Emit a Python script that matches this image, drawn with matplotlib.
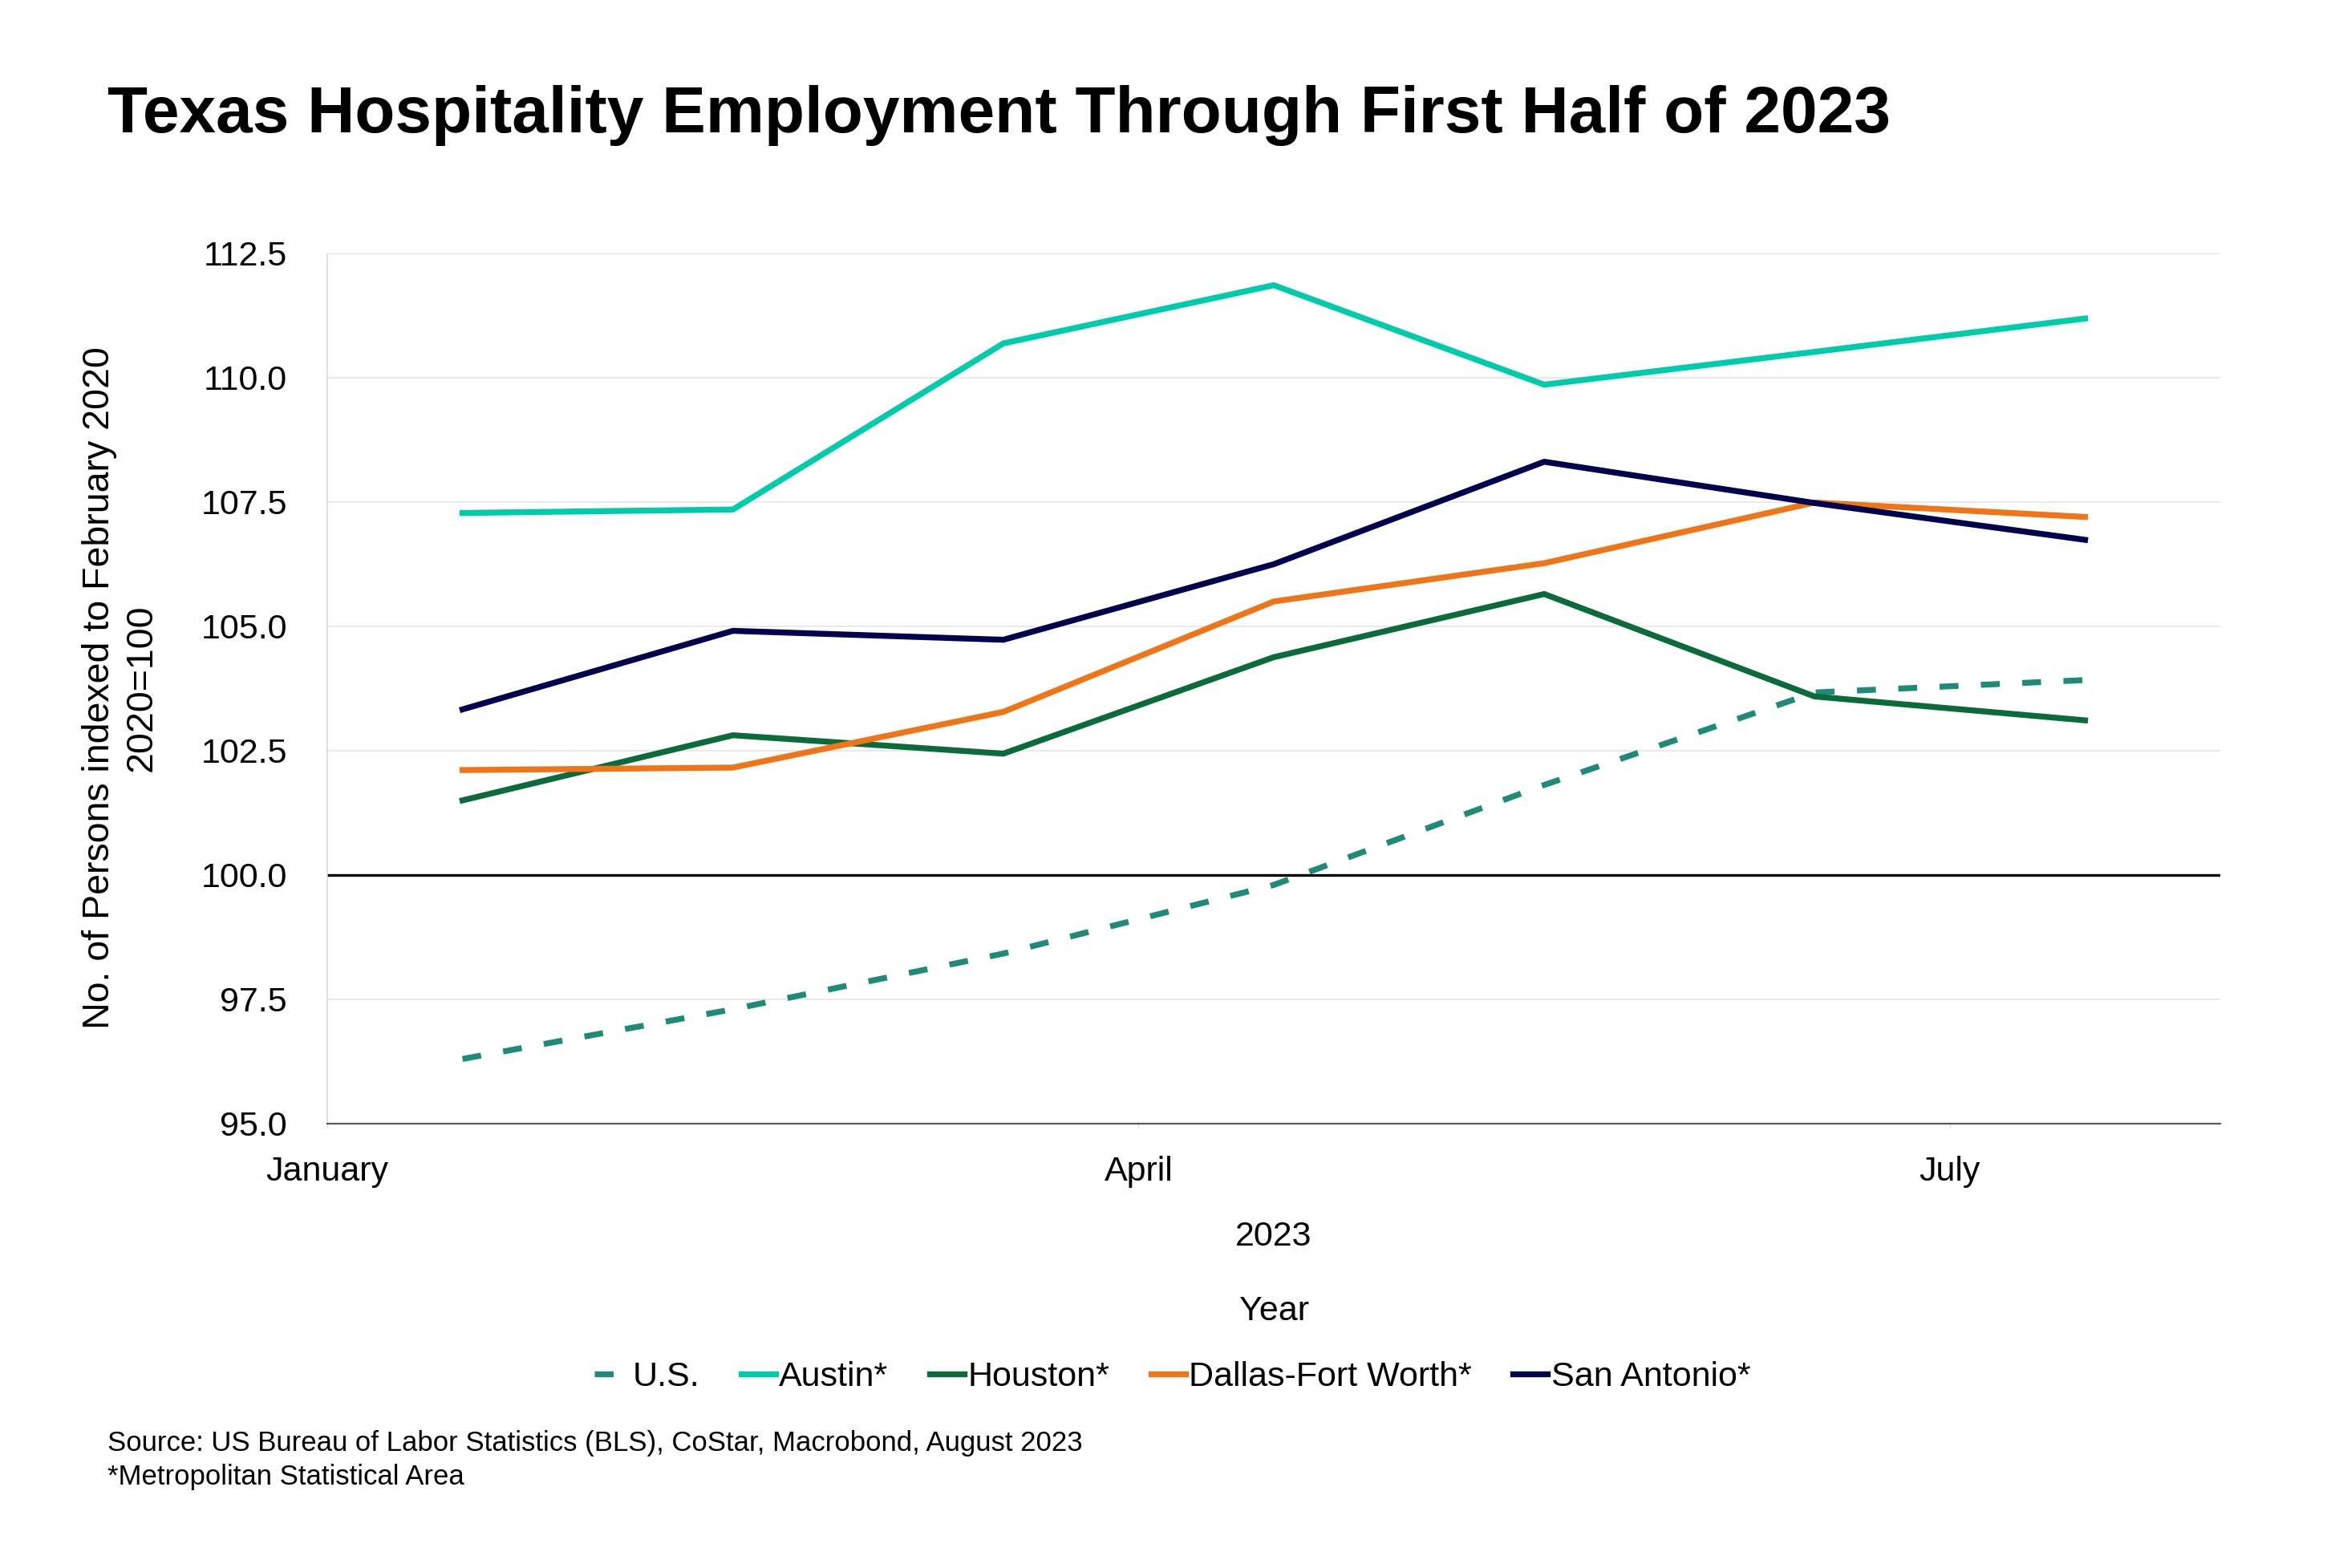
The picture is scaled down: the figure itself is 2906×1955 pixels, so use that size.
import numpy as np
import matplotlib
matplotlib.use("Agg")
import matplotlib.pyplot as plt

plt.rcParams["font.family"] = ["Liberation Sans", "DejaVu Sans"]

months = ["Jan", "Feb", "Mar", "Apr", "May", "Jun", "Jul"]
us = [96.3, 97.3, 98.42, 99.8, 101.81, 103.67, 103.92]
austin = [107.28, 107.35, 110.69, 111.86, 109.86, 110.52, 111.19]
houston = [101.5, 102.81, 102.44, 104.38, 105.65, 103.59, 103.11]
dallas = [102.11, 102.16, 103.28, 105.5, 106.27, 107.49, 107.2]
san_antonio = [103.33, 104.91, 104.73, 106.25, 108.31, 107.48, 106.74]

tick_months = ["January", "April", "July"]
tick_idx = [0, 3, 6]
yticks = [95.0, 97.5, 100.0, 102.5, 105.0, 107.5, 110.0, 112.5]

x = np.arange(len(months)) + 0.5

fig = plt.figure(figsize=(29.06, 19.55), dpi=100)
ax = fig.add_axes([0.1404, 0.2834, 0.8121, 0.555])

lw = 5.3
ax.plot(x, us, color="#1F8A78", lw=lw, dashes=(3.2, 3.8), label="U.S.")
ax.plot(x, austin, color="#00CBAA", lw=lw, label="Austin*")
ax.plot(x, houston, color="#0B6B3A", lw=lw, label="Houston*")
ax.plot(x, dallas, color="#F07418", lw=lw, label="Dallas-Fort Worth*")
ax.plot(x, san_antonio, color="#00004F", lw=lw, label="San Antonio*")

ax.axhline(100, color="black", lw=2.4, zorder=1)

ax.set_xlim(0, len(months))
ax.set_ylim(95, 112.5)
ax.set_yticks(yticks)
ax.set_yticklabels([f"{v:.1f}" for v in yticks])
ax.set_xticks(tick_idx)
ax.set_xticklabels(tick_months)
ax.tick_params(axis="y", length=0, pad=36, labelsize=31)
ax.tick_params(axis="x", length=4, color="#D9D9D9", pad=25, labelsize=31)

ax.grid(axis="y", color="#E3E3E3", lw=1.1, zorder=0)
ax.set_axisbelow(True)
for s in ["top", "right"]:
    ax.spines[s].set_visible(False)
ax.spines["left"].set_color("#D9D9D9")
ax.spines["left"].set_linewidth(1.1)
ax.spines["bottom"].set_color("#595959")
ax.spines["bottom"].set_linewidth(1.6)

fig.text(0.046, 0.9156, "Texas Hospitality Employment Through First Half of 2023",
         fontsize=59, fontweight="bold", ha="left", va="baseline")

fig.text(150 / 2906, 0.5611, "No. of Persons indexed to February 2020\n2020=100",
         rotation=90, ha="center", va="center", multialignment="center",
         fontsize=33.5, linespacing=1.25)

x_mid = 1588 / 2906
fig.text(x_mid, 1 - 1542 / 1955, "2023", ha="center", va="center", fontsize=31)
fig.text(x_mid, 1 - 1635 / 1955, "Year", ha="center", va="center", fontsize=31)

fig.legend(loc="center", bbox_to_anchor=(0.503, 1 - 1717 / 1955), ncol=5, frameon=False,
           fontsize=31, handlelength=1.0, handletextpad=0.1, columnspacing=1.2)

fig.text(0.046, 1 - 1800 / 1955,
         "Source: US Bureau of Labor Statistics (BLS), CoStar, Macrobond, August 2023",
         fontsize=25, ha="left", va="center")
fig.text(0.046, 1 - 1842 / 1955, "*Metropolitan Statistical Area",
         fontsize=25, ha="left", va="center")

fig.savefig("out.png", dpi=100, facecolor="white")
